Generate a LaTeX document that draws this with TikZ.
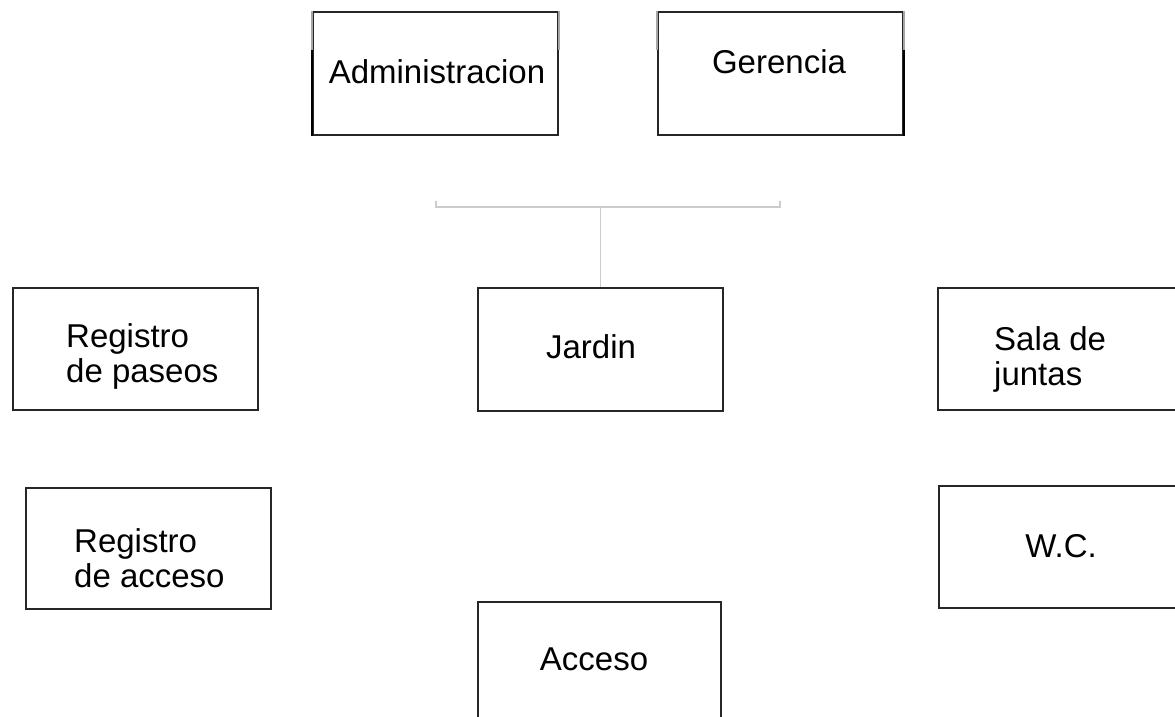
\documentclass[tikz,border=0pt]{standalone}
\usepackage{fontspec}
\setmainfont{Liberation Sans}
\begin{document}
\begin{tikzpicture}[x=1pt,y=-1pt,
  box/.style={draw=black!85, line width=1.8pt, fill=white, anchor=north west, inner sep=0pt, minimum width=245pt, minimum height=123pt},
  lbl/.style={inner sep=0pt, font=\fontsize{33}{35}\selectfont, text=black},
  conn/.style={draw=black!20, line width=1.4pt},
  fade/.style={draw=black!35, line width=1.8pt},
  heavy/.style={draw=black, line width=2.6pt}]
\useasboundingbox (0,0) rectangle (1175,717);
\clip (0,0) rectangle (1175,717);
\fill[white] (0,0) rectangle (1175,717);
% boxes
\node[box] (adm) at (312,11) {};
\node[box] (ger) at (657,11) {};
\node[box] (jar) at (477,287) {};
\node[box, minimum height=122pt] (rp) at (12,287) {};
\node[box, minimum height=121pt] (ra) at (25,487) {};
\node[box, minimum height=122pt] (sj) at (937,287) {};
\node[box, minimum height=122pt] (wc) at (938,485) {};
\node[box, minimum width=243pt, minimum height=140pt] (acc) at (477,601) {};
% edge shading of the top boxes
\draw[fade] (adm.north west) -- ++(0,39);
\draw[fade] (adm.north east) -- ++(0,39);
\draw[heavy] ([yshift=-39pt]adm.north west) -- (adm.south west);
\draw[fade] (ger.north west) -- ++(0,39);
\draw[fade] (ger.north east) -- ++(0,39);
\draw[heavy] ([yshift=-39pt]ger.north east) -- (ger.south east);
% labels
\node[lbl, anchor=base] (tadm) at (437,83) {Administracion};
\node[lbl, anchor=base] (tger) at (779,74) {Gerencia};
\node[lbl, anchor=base] (tjar) at (591,358) {Jardin};
\node[lbl, anchor=base west] (trp) at (66,347) {\begin{tabular}[t]{@{}l@{}}Registro\\de paseos\end{tabular}};
\node[lbl, anchor=base west] (tra) at (74,552) {\begin{tabular}[t]{@{}l@{}}Registro\\de acceso\end{tabular}};
\node[lbl, anchor=base west] (tsj) at (994,350) {\begin{tabular}[t]{@{}l@{}}Sala de\\juntas\end{tabular}};
\node[lbl, anchor=base] (twc) at (1061,557) {W.C.};
\node[lbl, anchor=base] (tacc) at (594,670) {Acceso};
% connector
\coordinate (bl) at (436,207);
\coordinate (br) at (780,207);
\coordinate (blt) at (436,201);
\coordinate (brt) at (780,201);
\draw[conn] (blt) -- (bl) -- (br) -- (brt);
\draw[conn] (jar.north) -- (jar.north |- bl);
\end{tikzpicture}
\end{document}
